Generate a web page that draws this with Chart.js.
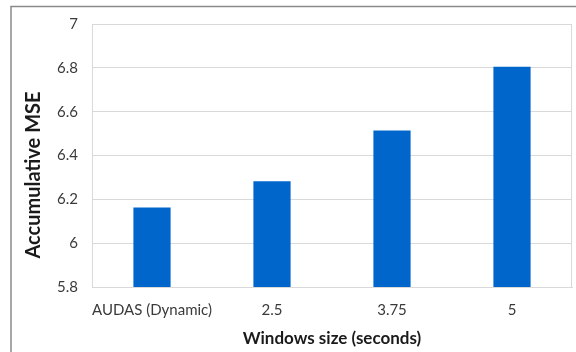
<!DOCTYPE html>
<html>
<head>
<meta charset="utf-8">
<script src="https://cdn.jsdelivr.net/npm/chart.js@4"></script>
<style>
    html, body { margin: 0; padding: 0; background: #fff; }
    #wrap { width: 576px; height: 352px; }
</style>
</head>
<body>
<div id="wrap"><canvas id="canvas" width="576" height="352"></canvas></div>
<script>
// window sizes on the x axis
const categories = ['AUDAS (Dynamic)', '2.5', '3.75', '5'];
// accumulative MSE per window size
const mseValues = [6.163, 6.282, 6.514, 6.805];
// y axis range and step
const yMin = 5.8;
const yMax = 7;
const yStep = 0.2;

const fontFamily = 'Lato, "Open Sans", sans-serif';
const yTitle = 'Accumulative MSE';

// frame around the whole figure, a box around the plot area,
// and the y title (sits a bit below the axis middle)
const framePlugin = {
    id: 'frame',
    afterDraw(chart) {
        const ctx = chart.ctx;
        const a = chart.chartArea;
        ctx.save();
        ctx.strokeStyle = '#d9d9d9';
        ctx.lineWidth = 1;
        ctx.strokeRect(a.left + 0.5, a.top + 0.5, a.right - a.left - 1, a.bottom - a.top);
        ctx.strokeStyle = '#8a8a8a';
        ctx.lineWidth = 1.5;
        ctx.beginPath();
        ctx.moveTo(11, chart.height + 2);
        ctx.lineTo(11, 6.5);
        ctx.lineTo(chart.width + 2, 6.5);
        ctx.stroke();

        ctx.translate(34, 175);
        ctx.rotate(-Math.PI / 2);
        ctx.fillStyle = '#1a1a1a';
        ctx.font = 'bold 20px ' + fontFamily;
        ctx.textAlign = 'center';
        ctx.textBaseline = 'middle';
        ctx.fillText(yTitle, 0, 0);
        ctx.restore();
    }
};

function drawBarChart() {
    let data = {
        labels: categories,
        datasets: [{
            label: yTitle,
            data: mseValues,
            backgroundColor: '#0066CC',
            borderWidth: 0,
            barPercentage: 0.31,
            categoryPercentage: 1
        }]
    };

    let options = {
        responsive: false,
        animation: false,
        layout: { padding: { top: 24, right: 4, bottom: 0, left: 0 } },
        plugins: {
            legend: { display: false },
            tooltip: { enabled: false }
        },
        scales: {
            x: {
                grid: { display: false, drawTicks: false },
                border: { display: true, color: '#d9d9d9' },
                ticks: {
                    padding: 14,
                    maxRotation: 0,
                    minRotation: 0,
                    autoSkip: false,
                    color: '#3a3a3a',
                    font: { family: fontFamily, size: 15 }
                },
                title: {
                    display: true,
                    text: 'Windows size (seconds)',
                    color: '#1a1a1a',
                    font: { family: fontFamily, size: 17, weight: 'bold' },
                    padding: { top: 0, bottom: 3 }
                },
                afterFit(scale) { scale.height = 65; }
            },
            y: {
                min: yMin,
                max: yMax,
                grid: { color: '#d9d9d9', lineWidth: 1, drawTicks: false },
                border: { display: true, color: '#d9d9d9' },
                ticks: {
                    stepSize: yStep,
                    padding: 14,
                    color: '#3a3a3a',
                    font: { family: fontFamily, size: 15 },
                    callback: (v) => parseFloat(v.toFixed(1)).toString()
                },
                afterFit(scale) { scale.width = 92; }
            }
        }
    };

    let ctx = document.getElementById('canvas').getContext('2d');

    new Chart(ctx, {
        type: 'bar',
        data: data,
        options: options,
        plugins: [framePlugin]
    });
}

drawBarChart();
</script>
</body>
</html>
